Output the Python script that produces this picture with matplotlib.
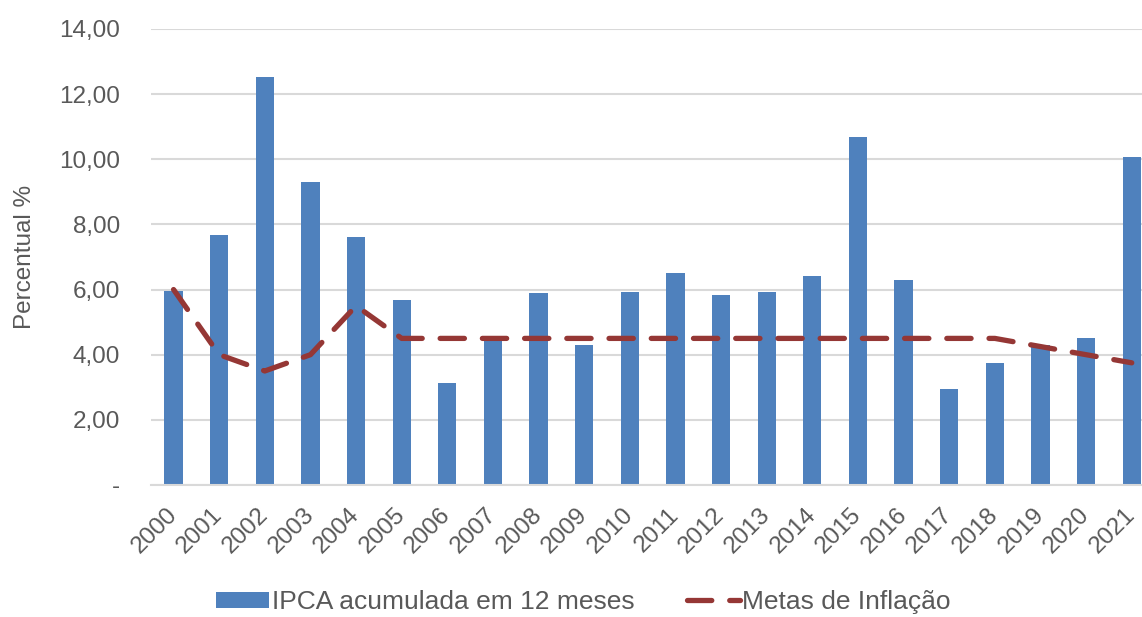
import numpy as np
import matplotlib
matplotlib.use("Agg")
import matplotlib.pyplot as plt
from matplotlib.ticker import FuncFormatter

plt.rcParams['font.family'] = ['Liberation Sans', 'DejaVu Sans']

# dados
anos = [str(a) for a in range(2000, 2022)]
ipca = [5.97, 7.67, 12.53, 9.30, 7.60, 5.69, 3.14, 4.46, 5.90, 4.31, 5.91,
        6.50, 5.84, 5.91, 6.41, 10.67, 6.29, 2.95, 3.75, 4.31, 4.52, 10.06]
metas = [6.0, 4.0, 3.5, 4.0, 5.5, 4.5, 4.5, 4.5, 4.5, 4.5, 4.5,
         4.5, 4.5, 4.5, 4.5, 4.5, 4.5, 4.5, 4.5, 4.25, 4.0, 3.75]
yticks = [0, 2, 4, 6, 8, 10, 12, 14]

cor_txt = '#595959'
cor_grade = '#D9D9D9'
fs = 17.5

fig = plt.figure(figsize=(11.42, 6.17), dpi=100)
ax = fig.add_axes([0.132, 0.214, 0.879, 0.739])

x = np.arange(len(anos))
barras = ax.bar(x, ipca, width=0.4, color='#4F81BD', zorder=2)
linha, = ax.plot(x, metas, color='#953735', lw=3.8, ls=(0, (4.6, 3.4)),
                 dash_capstyle='round', zorder=3)

ax.set_xlim(-0.5, len(anos) - 0.5)
ax.set_ylim(0, 14)
ax.set_yticks(yticks)
ax.yaxis.set_major_formatter(FuncFormatter(
    lambda v, p: '-' if v == 0 else f'{v:.2f}'.replace('.', ',')))
ax.grid(axis='y', color=cor_grade, lw=1.5, zorder=0)
for s in ['top', 'right', 'left']:
    ax.spines[s].set_visible(False)
ax.spines['bottom'].set_color(cor_grade)
ax.spines['bottom'].set_linewidth(1.5)

ax.set_xticks(x)
ax.set_xticklabels(anos, rotation=45, ha='right', va='center',
                   rotation_mode='anchor')
ax.tick_params(axis='x', length=0, pad=19, labelsize=fs, colors=cor_txt)
ax.tick_params(axis='y', length=0, pad=22, labelsize=fs, colors=cor_txt)

ax.set_ylabel('Percentual %', fontsize=fs, color=cor_txt)
ax.yaxis.set_label_coords(-0.114, 0.5)

fig.legend([barras, linha], ['IPCA acumulada em 12 meses', 'Metas de Inflação'],
           loc='lower center', bbox_to_anchor=(0.511, -0.034), ncol=2,
           frameon=False, fontsize=19, labelcolor=cor_txt,
           handlelength=2.0, handleheight=0.6, handletextpad=0.1,
           columnspacing=2.0)

fig.savefig('out.png', dpi=100)
